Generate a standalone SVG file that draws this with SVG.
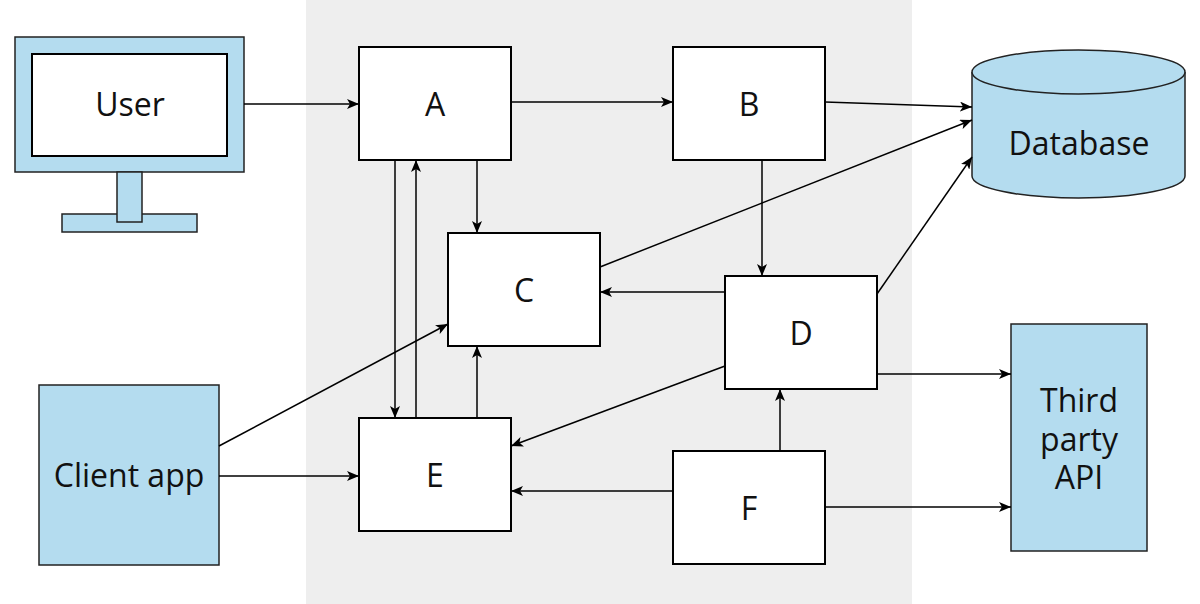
<svg xmlns="http://www.w3.org/2000/svg" width="1200" height="604" viewBox="0 0 1200 604">
<style>
.bx{fill:#fff;stroke:#000;stroke-width:2}
.bl{fill:#b4dcef;stroke:#222;stroke-width:1.5}
.t{font-family:"Open Sans","Noto Sans",sans-serif;font-size:32px;fill:#111;text-anchor:middle;dominant-baseline:central}
.c line{stroke:#000;stroke-width:1.5;marker-end:url(#ah)}
</style>
<defs><marker id="ah" viewBox="0 0 12 10" refX="12" refY="5" markerWidth="12" markerHeight="10" markerUnits="userSpaceOnUse" orient="auto"><path d="M0,0 L12,5 L0,10 L3,5 Z" fill="#000"/></marker></defs>
<rect x="306" y="0" width="606" height="604" fill="#eeeeee"/>
<g id="user">
<rect class="bl" x="15" y="37" width="229" height="135"/>
<rect class="bl" x="62" y="214" width="135" height="18"/>
<rect class="bl" x="117" y="172" width="25" height="50"/>
<rect class="bx" x="32" y="54" width="195" height="102"/>
<text class="t" x="130" y="103">User</text>
</g>
<g id="A"><rect class="bx" x="359" y="47" width="152" height="113"/><text class="t" x="435" y="103">A</text></g>
<g id="B"><rect class="bx" x="673" y="47" width="152" height="113"/><text class="t" x="749" y="103">B</text></g>
<g id="C"><rect class="bx" x="448" y="233" width="152" height="113"/><text class="t" x="524" y="289">C</text></g>
<g id="D"><rect class="bx" x="725" y="276" width="152" height="113"/><text class="t" x="801" y="332">D</text></g>
<g id="E"><rect class="bx" x="359" y="418" width="152" height="113"/><text class="t" x="435" y="474">E</text></g>
<g id="F"><rect class="bx" x="673" y="451" width="152" height="113"/><text class="t" x="749" y="507">F</text></g>
<g id="database">
<path class="bl" d="M972,72 L972,176 A106.5,22 0 0 0 1185,176 L1185,72"/>
<ellipse class="bl" cx="1078.5" cy="72" rx="106.5" ry="22"/>
<text class="t" x="1079" y="142">Database</text>
</g>
<g id="client"><rect class="bl" x="39" y="385" width="180" height="180"/><text class="t" x="129" y="474">Client app</text></g>
<g id="api"><rect class="bl" x="1011" y="324" width="136" height="227"/>
<text class="t" x="1079" y="399">Third</text><text class="t" x="1079" y="438">party</text><text class="t" x="1079" y="476">API</text></g>
<g class="c" id="connectors">
<line x1="244" y1="104" x2="359" y2="104"/>
<line x1="511" y1="102" x2="673" y2="102"/>
<line x1="825" y1="102" x2="972" y2="107"/>
<line x1="477" y1="160" x2="477" y2="233"/>
<line x1="395" y1="160" x2="395" y2="418"/>
<line x1="416" y1="418" x2="416" y2="160"/>
<line x1="600" y1="267" x2="972" y2="120"/>
<line x1="725" y1="292" x2="600" y2="292"/>
<line x1="762" y1="160" x2="762" y2="276"/>
<line x1="877" y1="294" x2="972" y2="157"/>
<line x1="725" y1="366" x2="511" y2="446"/>
<line x1="877" y1="374" x2="1011" y2="374"/>
<line x1="477" y1="418" x2="477" y2="346"/>
<line x1="219" y1="446" x2="448" y2="324"/>
<line x1="219" y1="476" x2="359" y2="476"/>
<line x1="673" y1="491" x2="511" y2="491"/>
<line x1="780" y1="451" x2="780" y2="389"/>
<line x1="825" y1="507" x2="1011" y2="507"/>
</g>
</svg>
